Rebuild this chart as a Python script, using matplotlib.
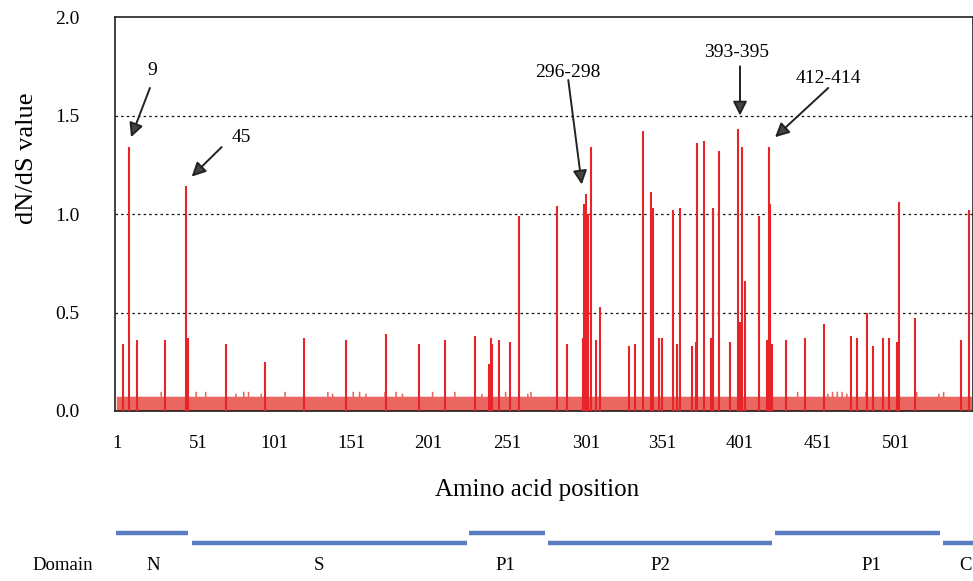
import matplotlib
matplotlib.use("Agg")
import matplotlib.pyplot as plt
import numpy as np

plt.rcParams["font.family"] = ["Liberation Serif", "DejaVu Serif"]

# ---- data ----
n_sites = 540
base_level = 0.075

bump_pos = [29, 51, 57, 76, 81, 84, 92, 107, 134, 137, 150, 154, 158, 170, 177,
            181, 200, 214, 231, 246, 260, 262, 430, 449, 452, 455, 458, 461, 473,
            484, 505, 519, 522]
bump_val = [0.10, 0.10, 0.10, 0.09, 0.10, 0.10, 0.09, 0.10, 0.10, 0.09, 0.10, 0.10,
            0.09, 0.10, 0.10, 0.09, 0.10, 0.10, 0.09, 0.10, 0.09, 0.10, 0.10, 0.09,
            0.10, 0.10, 0.10, 0.09, 0.10, 0.10, 0.10, 0.09, 0.10]

peak_pos = [5, 9, 14, 32, 45, 46, 70, 95, 119, 146, 171, 192, 208, 227, 236, 237,
            238, 242, 249, 255, 279, 285, 295, 296, 297, 298, 300, 303, 306, 324,
            328, 333, 338, 339, 343, 345, 352, 354, 356, 364, 366, 367, 371, 376,
            377, 381, 388, 393, 394, 395, 397, 406, 411, 412, 413, 414, 423, 435,
            447, 464, 468, 474, 478, 484, 488, 493, 494, 504, 533, 538]
peak_val = [0.34, 1.34, 0.36, 0.36, 1.14, 0.37, 0.34, 0.25, 0.37, 0.36, 0.39, 0.34,
            0.36, 0.38, 0.24, 0.37, 0.34, 0.36, 0.35, 0.99, 1.04, 0.34, 0.37, 1.05,
            1.10, 1.00, 1.34, 0.36, 0.53, 0.33, 0.34, 1.42, 1.11, 1.03, 0.37, 0.37,
            1.02, 0.34, 1.03, 0.33, 0.35, 1.36, 1.37, 0.37, 1.03, 1.32, 0.35, 1.43,
            0.45, 1.34, 0.66, 0.99, 0.36, 1.34, 1.05, 0.34, 0.36, 0.37, 0.44, 0.38,
            0.37, 0.50, 0.33, 0.37, 0.37, 0.35, 1.06, 0.47, 0.36, 1.02]

tick_labels = ["1", "51", "101", "151", "201", "251", "301", "351", "401", "451", "501"]
tick_pos = [1.4, 52.5, 100.4, 149.5, 197.4, 247.2, 297.0, 344.9, 394.0, 443.2, 492.3]

notes = ["9", "45", "296-298", "393-395", "412-414"]
note_head = [(10.3, 1.39), (48.5, 1.19), (294.3, 1.15), (394.0, 1.50), (416.1, 1.39)]
note_tail = [(22.2, 1.64), (67.4, 1.34), (285.8, 1.68), (394.0, 1.75), (449.6, 1.64)]
note_text = [(23.5, 1.73), (80.0, 1.39), (285.8, 1.72), (391.9, 1.82), (449.6, 1.69)]

domain_names = ["N", "S", "P1", "P2", "P1", "C"]
domain_start = [1, 49, 223, 273, 416, 522]
domain_end = [46, 222, 271, 414, 520, 541]
domain_level = [1, 0, 1, 0, 1, 0]
domain_label_x = [24, 129, 246, 344, 477, 536]

# ---- figure ----
fig = plt.figure(figsize=(9.73, 5.81), dpi=100)
ax = fig.add_axes([0.1187, 0.2926, 0.8808, 0.6781])

sites = np.arange(1, n_sites + 1)
background = np.full(n_sites, base_level)
background[np.array(bump_pos) - 1] = bump_val

ax.fill_between(sites, 0, background, step="mid", color="#ea6660", lw=0, zorder=2)
ax.vlines(peak_pos, 0, peak_val, color="#e8242b", lw=1.5, zorder=3)

for yv in [0.5, 1.0, 1.5]:
    ax.axhline(yv, color="#111111", ls=(0, (2, 2.5)), lw=0.9, zorder=1)

ax.set_xlim(0.5, 540.5)
ax.set_ylim(0, 2.0)
ax.set_yticks([0.0, 0.5, 1.0, 1.5, 2.0])
ax.set_yticklabels(["0.0", "0.5", "1.0", "1.5", "2.0"], fontsize=14)
ax.set_xticks(tick_pos)
ax.set_xticklabels(tick_labels, fontsize=13.5)
ax.tick_params(axis="x", length=0, pad=17)
ax.tick_params(axis="y", length=0, pad=26)
for sp in ax.spines.values():
    sp.set_linewidth(1.2)
    sp.set_color("#222222")

for txt, head, tail, pos in zip(notes, note_head, note_tail, note_text):
    ax.annotate("", xy=head, xytext=tail,
                arrowprops=dict(arrowstyle="-|>,head_length=0.7,head_width=0.35",
                                mutation_scale=12, lw=1.4, color="#222222",
                                fc="#444444", shrinkA=0, shrinkB=0),
                zorder=5)
    ax.text(pos[0], pos[1], txt, fontsize=14, ha="center", va="center", zorder=5)

fig.text(537 / 973, 1 - 490 / 581, "Amino acid position", fontsize=18,
         ha="center", va="center")
fig.text(27 / 973, 1 - 158 / 581, "dN/dS value", fontsize=19, rotation=90,
         ha="center", va="center")

# ---- domain strip ----
dax = fig.add_axes([0.1187, 0.0, 0.8808, 0.105])
dax.set_xlim(0.5, 540.5)
dax.set_ylim(0, 1)
dax.axis("off")
for s, e, lvl in zip(domain_start, domain_end, domain_level):
    yy = 0.787 if lvl == 1 else 0.623
    dax.plot([s, e], [yy, yy], color="#5a7cc2", lw=3.2, solid_capstyle="butt")
for name, lx in zip(domain_names, domain_label_x):
    dax.text(lx, 0.246, name, fontsize=13.5, ha="center", va="center")
dax.text(-33, 0.246, "Domain", fontsize=13.5, ha="center", va="center", clip_on=False)

fig.savefig("out.png", dpi=100)
